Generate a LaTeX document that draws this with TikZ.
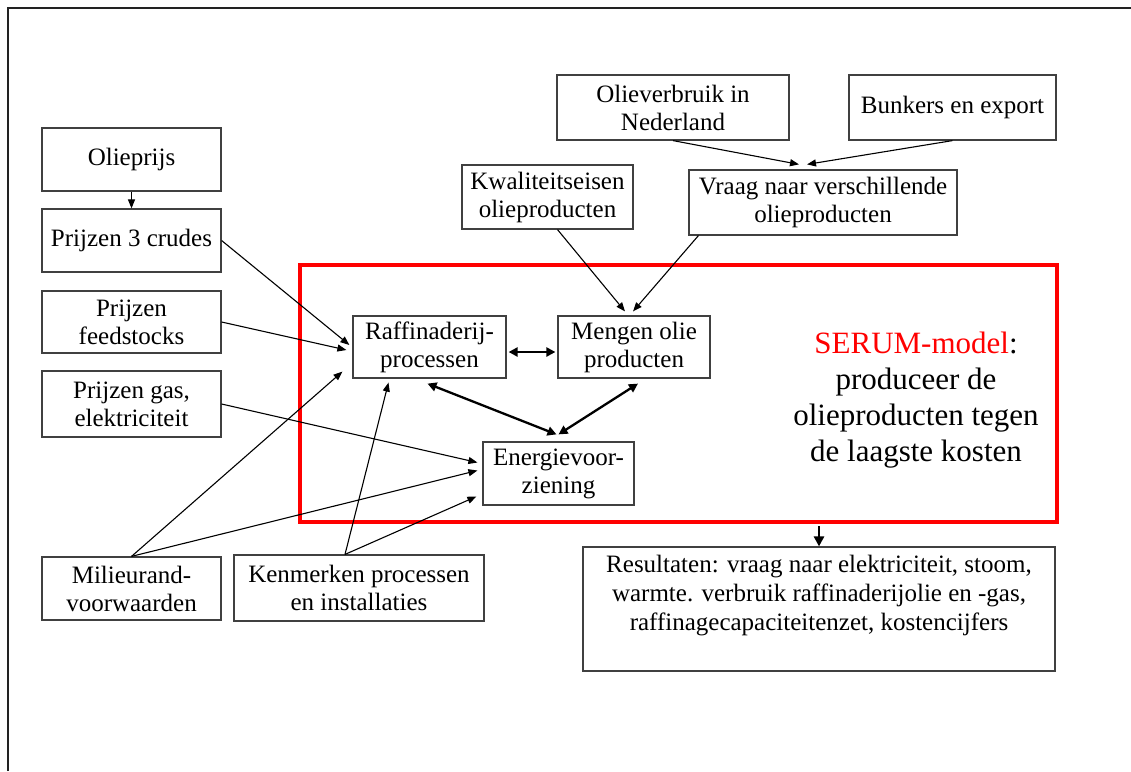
\documentclass[tikz,border=0pt]{standalone}
\usepackage{fontspec}
\setmainfont{Liberation Serif}
\usetikzlibrary{arrows.meta,calc}
\definecolor{boxgray}{HTML}{404040}
\definecolor{framegray}{HTML}{222222}
\begin{document}
\begin{tikzpicture}[x=1pt,y=-1pt,
  box/.style={draw=boxgray, line width=1.2pt, inner sep=0pt, align=center, font=\fontsize{25}{28}\selectfont},
  conn/.style={line width=1.1pt, -{Triangle[length=9pt,width=7pt]}},
  dconn/.style={line width=2.3pt, {Triangle[length=9pt,width=9pt]}-{Triangle[length=9pt,width=9pt]}},
  sconn/.style={line width=2.5pt, -{Triangle[length=10pt,width=10pt]}},
]
\useasboundingbox (0,0) rectangle (1131,771);
\draw[line width=2pt, framegray] (8,771) -- (8,8) -- (1131,8);

% red model frame
\node[draw=red, line width=4pt, inner sep=0pt, minimum width=757pt, minimum height=257pt] (serum) at (678.5,393.5) {};

% left column
\node[box, minimum width=179pt, minimum height=63pt] (op) at (131.5,159.5) {Olieprijs};
\node[box, minimum width=179pt, minimum height=63pt] (pc) at (131.5,240.5) {Prijzen 3 crudes};
\node[box, minimum width=179pt, minimum height=62pt] (pf) at (131.5,322) {Prijzen\\feedstocks};
\node[box, minimum width=179pt, minimum height=66pt] (pg) at (131.5,404) {Prijzen gas,\\elektriciteit};
\node[box, minimum width=179pt, minimum height=63pt] (mv) at (131.5,588.5) {Milieurand-\\voorwaarden};
\node[box, minimum width=250pt, minimum height=66pt] (km) at (359,588) {Kenmerken processen\\en installaties};

% model boxes
\node[box, minimum width=153pt, minimum height=62pt] (raf) at (429.5,347) {Raffinaderij-\\processen};
\node[box, minimum width=152pt, minimum height=62pt] (meng) at (634,347) {Mengen olie\\producten};
\node[box, minimum width=151pt, minimum height=63pt] (eng) at (558.5,473.5) {Energievoor-\\ziening};

% top boxes
\node[box, minimum width=232pt, minimum height=65pt] (ov) at (673,107.5) {Olieverbruik in\\Nederland};
\node[box, minimum width=207pt, minimum height=65pt] (bu) at (952.5,107.5) {Bunkers en export};
\node[box, minimum width=268pt, minimum height=65pt] (vr) at (823,202.5) {Vraag naar verschillende\\olieproducten};
\node[box, minimum width=171pt, minimum height=64pt] (kw) at (547.5,197) {Kwaliteitseisen\\olieproducten};

% results
\node[box, minimum width=472pt, minimum height=124pt] (res) at (819,609) {};
\node[align=center, anchor=north, inner sep=0pt, font=\fontsize{25}{29}\selectfont] (restxt) at (819,555)
  {Resultaten: vraag naar elektriciteit, stoom,\\warmte. verbruik raffinaderijolie en -gas,\\raffinagecapaciteitenzet, kostencijfers};

% model text
\node[align=center, anchor=north, inner sep=0pt, font=\fontsize{31}{36}\selectfont] (serumtxt) at (916,332)
  {\textcolor{red}{SERUM-model}:\\produceer de\\olieproducten tegen\\de laagste kosten};

% connectors
\draw[conn] (op.south) -- (pc.north);
\draw[conn] (pc.east) -- ($(raf.west)+(-3,-2)$);
\draw[conn] (pf.east) -- ($(raf.west)+(-6,3)$);
\draw[conn] (mv.north) -- ($(raf.south west)+(-10,-7)$);
\draw[conn] (pg.east) -- ($(eng.west)+(-5,-11)$);
\draw[conn] (mv.north) -- ($(eng.west)+(-5,-3)$);
\draw[conn] ($(km.north)+(-14,0)$) -- ($(raf.south)+(-41,4)$);
\draw[conn] ($(km.north)+(-14,0)$) -- ($(eng.west)+(-6,23)$);
\draw[dconn] ($(raf.east)+(2,5)$) -- ($(meng.west)+(-2,5)$);
\draw[dconn] ($(raf.south)+(-2,5)$) -- ($(eng.north)+(-2,-7)$);
\draw[dconn] ($(meng.south)+(4,5)$) -- ($(eng.north)+(0,-7)$);
\draw[conn] ($(kw.south)+(10,0)$) -- ($(meng.north)+(-9,-4)$);
\draw[conn] ($(vr.south west)+(10,0)$) -- ($(meng.north)+(-1,-4)$);
\draw[conn] (ov.south) -- ($(vr.north)+(-24,-5)$);
\draw[conn] (bu.south) -- ($(vr.north)+(-16,-5)$);
\draw[sconn] ($(res.north |- serum.south)+(0,2)$) -- (res.north);
\end{tikzpicture}
\end{document}
